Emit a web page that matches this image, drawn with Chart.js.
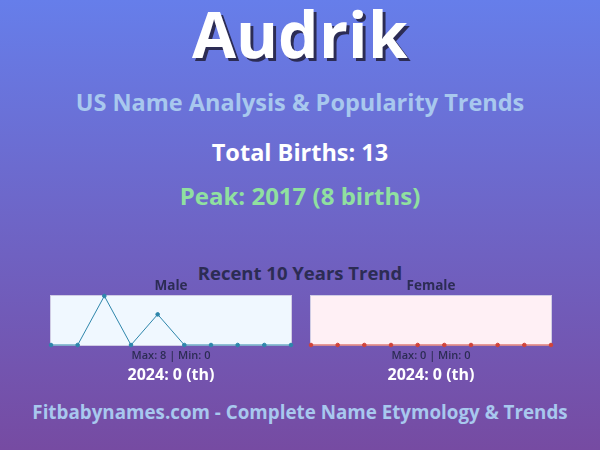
<!DOCTYPE html>
<html>
<head>
<meta charset="utf-8">
<script src="https://cdn.jsdelivr.net/npm/chart.js@4/dist/chart.umd.min.js"></script>
<style>
  @font-face {
    font-family: "TitleOS";
    src: local("Open Sans Bold"), local("OpenSans-Bold"), local("Open Sans");
    font-weight: 700;
    ascent-override: 82%;
    descent-override: 22%;
  }
  html, body { margin: 0; padding: 0; }
  body {
    width: 600px; height: 450px; overflow: hidden; position: relative;
    background: linear-gradient(180deg, #667eea 0%, #764ba2 100%);
    font-family: "Open Sans", "Noto Sans", sans-serif; font-weight: 700;
  }
  .t { position: absolute; left: 0; width: 600px; text-align: center; white-space: nowrap; }
  #name { top: 2px; font-family: "TitleOS", "Open Sans", sans-serif; font-size: 64px; line-height: 74px; color: #fff; text-shadow: 3px 3px 0 #2c2c54; }
  #sub { top: 86px; font-size: 23.5px; line-height: 32px; color: #a8c8ee; }
  #total { top: 136px; font-size: 23.5px; line-height: 32px; color: #fff; }
  #peak { top: 180px; font-size: 24px; line-height: 32px; color: #90e0a0; }
  #recent { top: 261px; font-size: 18.5px; line-height: 24px; color: #2c2c54; }
  #foot { top: 399px; font-size: 18.8px; line-height: 26px; color: #a8c8ee; }
  .c { position: absolute; top: 278px; width: 262px; height: 70px; }
  .mm { position: absolute; top: 347px; width: 262px; text-align: center; font-size: 11px; line-height: 16px; color: #2c2c54; font-weight: 600; }
  .yr { position: absolute; top: 363px; width: 262px; text-align: center; font-size: 16px; line-height: 22px; color: #fff; }
</style>
</head>
<body>
<div class="t" id="name">Audrik</div>
<div class="t" id="sub">US Name Analysis &amp; Popularity Trends</div>
<div class="t" id="total">Total Births: 13</div>
<div class="t" id="peak">Peak: 2017 (8 births)</div>
<div class="t" id="recent">Recent 10 Years Trend</div>
<div class="c" style="left:40px"><canvas id="male"></canvas></div>
<div class="c" style="left:300px"><canvas id="female"></canvas></div>
<div class="mm" style="left:40px">Max: 8 | Min: 0</div>
<div class="mm" style="left:300px">Max: 0 | Min: 0</div>
<div class="yr" style="left:40px">2024: 0 (th)</div>
<div class="yr" style="left:300px">2024: 0 (th)</div>
<div class="t" id="foot">Fitbabynames.com - Complete Name Etymology &amp; Trends</div>
<script>
const years = ["2015","2016","2017","2018","2019","2020","2021","2022","2023","2024"];
const maleValues = [0, 0, 8, 0, 5, 0, 0, 0, 0, 0];
const femaleValues = [0, 0, 0, 0, 0, 0, 0, 0, 0, 0];

const areaBg = {
  id: 'areaBg',
  beforeDraw(chart, args, opts) {
    const a = chart.chartArea, ctx = chart.ctx;
    ctx.save();
    ctx.fillStyle = opts.fill;
    ctx.fillRect(a.left, a.top, a.right - a.left, a.bottom - a.top);
    ctx.strokeStyle = opts.stroke;
    ctx.lineWidth = 1;
    ctx.strokeRect(a.left - 0.5, a.top - 0.5, a.right - a.left + 1, a.bottom - a.top + 1);
    ctx.restore();
  }
};

function makeChart(id, title, values, color, fill, ymax) {
  return new Chart(document.getElementById(id), {
    type: 'line',
    data: { labels: years, datasets: [{
      data: values, borderColor: color, backgroundColor: color,
      borderWidth: 1, pointRadius: 1.8, pointHoverRadius: 2, tension: 0, fill: false, clip: false
    }]},
    options: {
      responsive: true, maintainAspectRatio: false, animation: false,
      layout: { padding: { left: 11, right: 11, top: 0, bottom: 3 } },
      plugins: {
        legend: { display: false }, tooltip: { enabled: false },
        title: { display: true, text: title, color: '#2c2c54',
          font: { family: '"Open Sans", "Noto Sans", sans-serif', size: 13.5, weight: 'bold' },
          padding: { top: 0, bottom: 1.8 } },
        areaBg: { fill: fill, stroke: '#d0cce4' }
      },
      scales: {
        x: { display: false },
        y: { display: false, min: 0, max: ymax }
      }
    },
    plugins: [areaBg]
  });
}
makeChart('male', 'Male', maleValues, '#2e86ab', '#f0f8ff', Math.max(...maleValues));
makeChart('female', 'Female', femaleValues, '#d0433a', '#fff0f5', 1);
</script>
</body>
</html>
